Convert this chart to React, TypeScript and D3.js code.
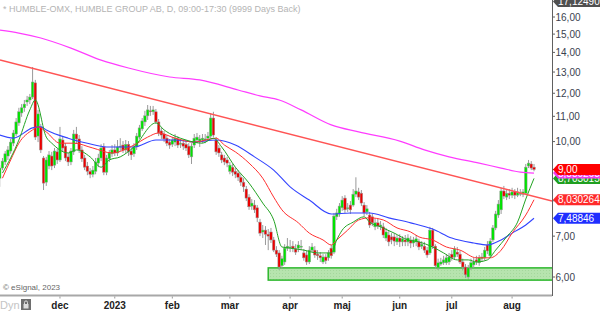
import React from "react";
import * as d3 from "d3";

// ---- Data ----
const opens = [
  8.71, 9.05, 9.26, 9.47, 9.65, 9.94, 10.29, 10.73, 11.14, 11.36, 11.61, 11.70, 11.83, 12.48, 10.21, 10.57, 9.40, 8.58, 9.12, 9.47,
  9.15, 9.62, 9.33, 10.06, 9.83, 9.44, 9.26, 9.62, 10.29, 10.10, 9.69, 9.40, 9.12, 8.94, 8.84, 8.94, 9.22, 9.40, 9.80, 8.91,
  9.37, 9.55, 9.69, 9.58, 9.80, 9.87, 9.69, 9.90, 9.65, 9.55, 9.80, 10.17, 10.49, 10.77, 11.02, 11.23, 11.19, 11.19, 10.77, 10.41,
  10.29, 10.13, 9.98, 9.90, 9.98, 10.10, 9.90, 9.94, 9.90, 9.83, 9.44, 9.87, 10.06, 10.02, 10.06, 10.06, 10.13, 10.21, 10.93, 10.06,
  9.76, 9.51, 9.40, 9.33, 8.94, 9.08, 8.94, 8.88, 8.74, 8.58, 8.36, 8.11, 7.84, 7.87, 7.79, 7.38, 7.11, 7.16, 7.05, 7.11,
  6.90, 6.64, 6.57, 6.26, 6.35, 6.69, 6.72, 6.74, 6.67, 6.69, 6.72, 6.57, 6.52, 6.35, 6.64, 6.64, 6.54, 6.50, 6.35, 6.47,
  6.45, 6.69, 6.59, 7.53, 7.61, 7.79, 8.08, 7.76, 7.87, 7.87, 8.20, 8.27, 8.23, 7.87, 7.67, 7.58, 7.53, 7.25, 7.36, 7.25,
  7.25, 6.95, 7.03, 6.98, 6.98, 6.85, 6.95, 6.85, 6.90, 6.85, 6.90, 6.82, 6.85, 6.85, 6.74, 6.74, 6.64, 6.57, 7.16, 6.74,
  6.21, 6.30, 6.33, 6.33, 6.35, 6.54, 6.47, 6.59, 6.54, 6.35, 6.23, 6.00, 6.21, 6.28, 6.40, 6.33, 6.43, 6.45, 6.77, 6.50,
  6.90, 7.22, 7.58, 7.73, 8.30, 8.11, 8.23, 8.17, 8.27, 8.17, 8.23, 8.20, 8.23, 9.12, 9.19, 9.08,
];
const highs = [
  9.15, 9.40, 9.65, 9.83, 10.10, 10.45, 10.93, 11.36, 11.52, 11.70, 11.88, 11.97, 13.25, 12.62, 11.27, 10.69, 9.47, 9.44, 9.65, 9.62,
  9.76, 9.73, 10.57, 10.21, 9.94, 9.58, 9.76, 10.45, 10.57, 10.25, 9.83, 9.51, 9.26, 9.05, 9.12, 9.40, 9.55, 9.90, 9.94, 9.51,
  9.69, 9.87, 9.90, 10.06, 10.13, 10.02, 10.06, 10.02, 9.76, 9.94, 10.33, 10.65, 10.93, 11.23, 11.48, 11.44, 11.44, 11.31, 10.89, 10.53,
  10.41, 10.25, 10.10, 10.17, 10.29, 10.21, 10.10, 10.10, 10.06, 9.94, 9.94, 10.29, 10.33, 10.25, 10.29, 10.29, 10.37, 11.14, 11.19, 10.17,
  9.87, 9.62, 9.51, 9.44, 9.26, 9.19, 9.05, 8.98, 8.84, 8.71, 8.46, 8.20, 8.05, 8.02, 7.87, 7.47, 7.30, 7.27, 7.19, 7.22,
  6.98, 6.74, 6.64, 6.50, 6.79, 6.95, 6.90, 6.87, 6.79, 6.87, 6.90, 6.67, 6.62, 6.74, 6.82, 6.74, 6.64, 6.59, 6.54, 6.54,
  6.64, 6.77, 7.64, 7.76, 7.93, 8.14, 8.17, 7.93, 7.99, 8.36, 8.74, 8.40, 8.33, 7.96, 7.87, 7.67, 7.61, 7.47, 7.47, 7.41,
  7.36, 7.22, 7.14, 7.08, 7.08, 7.03, 7.05, 7.00, 7.03, 7.05, 7.00, 6.98, 7.03, 6.93, 6.87, 6.85, 6.72, 7.25, 7.22, 6.79,
  6.43, 6.45, 6.50, 6.54, 6.57, 6.64, 6.74, 6.72, 6.62, 6.43, 6.30, 6.28, 6.43, 6.45, 6.50, 6.52, 6.57, 6.72, 6.87, 6.95,
  7.30, 7.70, 8.02, 8.40, 8.46, 8.33, 8.36, 8.40, 8.36, 8.40, 8.36, 8.36, 9.19, 9.33, 9.29, 9.19,
];
const lows = [
  8.43, 8.98, 9.15, 9.33, 9.55, 9.83, 10.21, 10.61, 10.98, 11.19, 11.44, 11.52, 11.74, 10.06, 9.98, 9.58, 8.33, 8.46, 9.01, 8.98,
  9.05, 9.19, 9.26, 9.65, 9.29, 9.12, 9.15, 9.51, 9.94, 9.58, 9.26, 8.98, 8.81, 8.71, 8.74, 8.84, 9.08, 9.29, 8.81, 8.81,
  9.26, 9.44, 9.47, 9.47, 9.65, 9.58, 9.58, 9.47, 9.33, 9.44, 9.69, 10.10, 10.41, 10.61, 10.85, 11.02, 11.06, 10.69, 10.21, 10.10,
  9.98, 9.83, 9.73, 9.80, 9.83, 9.76, 9.76, 9.69, 9.65, 9.40, 9.19, 9.76, 9.94, 9.80, 9.94, 9.94, 10.02, 10.13, 10.17, 9.51,
  9.44, 9.22, 9.15, 9.08, 8.84, 8.78, 8.71, 8.62, 8.46, 8.27, 7.99, 7.73, 7.73, 7.64, 7.38, 7.00, 6.95, 6.77, 6.64, 6.82,
  6.59, 6.47, 6.16, 6.19, 6.28, 6.62, 6.59, 6.59, 6.52, 6.59, 6.64, 6.38, 6.28, 6.30, 6.59, 6.45, 6.40, 6.35, 6.30, 6.30,
  6.38, 6.43, 6.54, 7.44, 7.53, 7.70, 7.64, 7.67, 7.61, 7.82, 8.11, 8.02, 7.84, 7.55, 7.58, 7.22, 7.27, 7.16, 7.19, 7.16,
  6.95, 6.87, 6.74, 6.79, 6.74, 6.77, 6.72, 6.74, 6.74, 6.74, 6.69, 6.72, 6.74, 6.64, 6.67, 6.57, 6.45, 6.52, 6.67, 6.19,
  6.16, 6.26, 6.28, 6.28, 6.28, 6.38, 6.40, 6.47, 6.30, 6.16, 5.98, 5.96, 6.16, 6.21, 6.28, 6.26, 6.35, 6.38, 6.54, 6.45,
  6.85, 7.16, 7.50, 7.61, 8.05, 8.02, 8.05, 8.08, 8.05, 8.11, 8.14, 8.11, 8.20, 9.05, 8.98, 8.94,
];
const closes = [
  9.05, 9.29, 9.55, 9.69, 9.98, 10.33, 10.77, 11.19, 11.36, 11.52, 11.70, 11.83, 12.52, 10.17, 11.10, 9.69, 8.55, 9.33, 9.51, 9.12,
  9.65, 9.33, 10.10, 9.76, 9.40, 9.26, 9.65, 10.29, 10.10, 9.69, 9.37, 9.08, 8.94, 8.84, 8.98, 9.26, 9.40, 9.76, 8.91, 9.40,
  9.58, 9.69, 9.58, 9.80, 9.83, 9.69, 9.90, 9.62, 9.51, 9.80, 10.21, 10.53, 10.81, 11.02, 11.27, 11.19, 11.27, 10.77, 10.33, 10.25,
  10.10, 9.94, 9.87, 10.06, 10.13, 9.87, 9.94, 9.83, 9.76, 9.51, 9.83, 10.13, 10.17, 10.10, 10.13, 10.10, 10.21, 10.93, 10.25, 9.62,
  9.58, 9.33, 9.26, 9.22, 9.15, 8.91, 8.84, 8.74, 8.58, 8.43, 8.08, 7.82, 7.93, 7.73, 7.50, 7.08, 7.16, 7.05, 7.00, 6.90,
  6.64, 6.54, 6.23, 6.43, 6.69, 6.74, 6.72, 6.69, 6.59, 6.77, 6.74, 6.45, 6.35, 6.64, 6.72, 6.52, 6.50, 6.45, 6.47, 6.38,
  6.57, 6.50, 7.55, 7.64, 7.84, 8.02, 7.73, 7.79, 7.73, 8.20, 8.30, 8.11, 7.93, 7.64, 7.76, 7.30, 7.36, 7.36, 7.27, 7.30,
  7.03, 7.11, 6.85, 6.90, 6.87, 6.95, 6.85, 6.93, 6.85, 6.95, 6.82, 6.90, 6.93, 6.72, 6.79, 6.64, 6.52, 7.16, 6.74, 6.26,
  6.33, 6.35, 6.40, 6.45, 6.47, 6.45, 6.67, 6.54, 6.35, 6.23, 6.05, 6.21, 6.33, 6.35, 6.35, 6.45, 6.47, 6.64, 6.62, 6.87,
  7.22, 7.61, 7.90, 8.30, 8.14, 8.23, 8.17, 8.27, 8.17, 8.27, 8.23, 8.27, 9.08, 9.22, 9.05, 9.00,
];

// Moving averages: [bar index, value]
const greenMA: [number, number][] = [
  [1, 8.88], [7, 10.06], [11, 11.27], [13, 11.7], [17, 10.17], [19, 9.94], [25, 9.58], [28, 9.69], [33, 9.44], [37, 9.08],
  [40, 9.33], [44, 9.44], [49, 9.8], [57, 10.73], [60, 10.45], [68, 10.06], [74, 9.94], [78, 10.13], [81, 9.8], [86, 9.08],
  [91, 8.55], [96, 7.93], [100, 7.44], [103, 6.72], [106, 6.69], [111, 6.64], [116, 6.57], [121, 6.57], [123, 6.9], [125, 7.16],
  [129, 7.38], [133, 7.53], [135, 7.38], [139, 7.25], [144, 7.08], [149, 6.9], [153, 6.85], [158, 6.72], [162, 6.57], [167, 6.4],
  [171, 6.4], [174, 6.35], [178, 6.4], [181, 6.64], [185, 6.98], [189, 7.38], [192, 8.05], [195, 8.703],
];
const redMA: [number, number][] = [
  [1, 8.71], [4, 9.33], [7, 9.94], [12, 10.45], [14, 10.57], [17, 10.37], [22, 9.94], [27, 9.94], [34, 9.76], [41, 9.58],
  [49, 9.87], [54, 10.17], [58, 10.33], [64, 10.13], [71, 9.98], [79, 10.13], [82, 9.87], [86, 9.62], [91, 9.22], [96, 8.71],
  [100, 8.11], [103, 7.73], [109, 7.36], [113, 7.08], [118, 6.9], [121, 6.77], [123, 6.9], [127, 7.16], [131, 7.44], [135, 7.5],
  [140, 7.44], [145, 7.22], [150, 7.11], [153, 6.98], [158, 6.9], [163, 6.72], [168, 6.64], [174, 6.45], [179, 6.45], [183, 6.64],
  [187, 7.08], [192, 7.58], [195, 8.030264],
];
const blueMA: [number, number][] = [
  [0, 10.25], [5, 10.13], [12, 10.53], [15, 10.57], [17, 10.45], [25, 10.13], [32, 9.94], [39, 9.8], [49, 9.8], [57, 10.06],
  [64, 10.06], [71, 9.98], [79, 10.06], [86, 9.87], [93, 9.44], [100, 8.98], [106, 8.43], [113, 8.02], [121, 7.61], [128, 7.64],
  [135, 7.64], [142, 7.5], [150, 7.36], [158, 7.19], [165, 6.95], [173, 6.82], [178, 6.77], [183, 6.9], [187, 7.08], [192, 7.3],
  [195, 7.48846],
];
const magentaMA: [number, number][] = [
  [0, 15.23], [7, 15.06], [15, 14.78], [26, 14.23], [37, 13.6], [47, 13.2], [62, 12.76], [73, 12.62], [87, 12.15], [95, 11.88],
  [102, 11.7], [110, 11.27], [121, 10.65], [131, 10.37], [146, 10.02], [155, 9.69], [164, 9.44], [175, 9.22], [183, 9.05], [190, 8.91],
  [195, 8.88],
];

// Trendline anchors [bar index, value]
const trendStart: [number, number] = [12, 13.18];
const trendEnd: [number, number] = [195, 8.13];

// Support zone
const zoneStartIndex = 98;
const zoneLow = 5.93;
const zoneHigh = 6.21;

const yTickValues = [6, 7, 8, 9, 10, 11, 12, 13, 14, 15, 16];
// tick labels hidden behind the price boxes in the reference
const yTicksHiddenLabel = [8, 9];
const monthLabels = ["dec", "2023", "feb", "mar", "apr", "maj", "jun", "jul", "aug"];
const monthIndex = [22, 42, 63, 84, 106, 125, 146, 165, 187];

const priceLabels = [
  { value: 8.703, text: "8,703015", color: "#1f9f1f" },
  { value: 8.88, text: "8,880263", color: "#f03cf0" },
  { value: 9.0, text: "9,00", color: "#ff0000" },
  { value: 8.030264, text: "8,030264", color: "#ff2a2a" },
  { value: 7.48846, text: "7,48846", color: "#1f2fff" },
];
const topLabel = { value: 17.124905, text: "17,124905", color: "#505050" };

const title = "* HUMBLE-OMX, HUMBLE GROUP AB, D, 09:00-17:30 (9999 Days Back)";

export default function App() {
  const plotRight = 552;
  const plotBottom = 295;
  const x = d3.scaleLinear().domain([0, 195]).range([-0.3, -0.3 + 195 * 2.74]);
  const y = d3.scaleLog().domain([6, 16]).range([277, 17]);

  const maLine = d3
    .line<[number, number]>()
    .x((d) => x(d[0]))
    .y((d) => y(d[1]))
    .curve(d3.curveMonotoneX);

  // trendline extended across the plot in screen space
  const tx1 = x(trendStart[0]);
  const ty1 = y(trendStart[1]);
  const tx2 = x(trendEnd[0]);
  const ty2 = y(trendEnd[1]);
  const slope = (ty2 - ty1) / (tx2 - tx1);
  const tyAt = (px: number) => ty1 + slope * (px - tx1);

  const boxPath = (cy: number) => {
    const h = 5.5;
    return `M553,${cy} L558,${cy - h} L600,${cy - h} L600,${cy + h} L558,${cy + h} Z`;
  };

  const topCy = Math.max(y(topLabel.value), 1.5);

  return (
    <svg
      width={600}
      height={311}
      style={{ position: "fixed", left: 0, top: 0, display: "block", background: "#fff" }}
      fontFamily="Arial, 'Liberation Sans', sans-serif"
    >
      <defs>
        <clipPath id="plot">
          <rect x={0} y={0} width={plotRight} height={plotBottom} />
        </clipPath>
        <pattern id="dots" width={3} height={3} patternUnits="userSpaceOnUse">
          <rect width={3} height={3} fill="#b6e4ae" />
          <rect width={1} height={1} fill="#a4d89c" />
        </pattern>
      </defs>
      <rect x={0} y={0} width={600} height={311} fill="#fff" />

      <text x={3} y={12} fontSize={9} fill="#b4b4b4">
        {title}
      </text>

      <g clipPath="url(#plot)">
        {/* support zone */}
        <rect
          x={x(zoneStartIndex)}
          y={y(zoneHigh)}
          width={plotRight - x(zoneStartIndex) + 2}
          height={y(zoneLow) - y(zoneHigh)}
          fill="url(#dots)"
          stroke="#2eb82e"
          strokeWidth={1.5}
        />

        {/* candles */}
        {opens.map((o, i) => {
          const c = closes[i];
          const cx = x(i);
          const up = c >= o;
          const top = y(Math.max(o, c));
          const bot = y(Math.min(o, c));
          return (
            <g key={i}>
              <line x1={cx} x2={cx} y1={y(highs[i])} y2={y(lows[i])} stroke="#9a9a9a" strokeWidth={1} />
              <rect
                x={cx - 1.3}
                y={top}
                width={2.6}
                height={Math.max(bot - top, 1)}
                fill={up ? "#00e400" : "#ec0000"}
                stroke="#9a9a9a"
                strokeWidth={0.5}
              />
            </g>
          );
        })}

        {/* moving averages */}
        <path d={maLine(magentaMA) || ""} fill="none" stroke="#ff3cff" strokeWidth={1.2} />
        <path d={maLine(blueMA) || ""} fill="none" stroke="#3344ff" strokeWidth={1.1} />
        <path d={maLine(redMA) || ""} fill="none" stroke="#ff3030" strokeWidth={1} />
        <path d={maLine(greenMA) || ""} fill="none" stroke="#23a323" strokeWidth={1} />

        {/* trendline */}
        <line x1={0} y1={tyAt(0)} x2={plotRight} y2={tyAt(plotRight)} stroke="#ff5454" strokeWidth={1.5} />
      </g>

      <text x={3} y={290} fontSize={8} fill="#666">
        © eSignal, 2023
      </text>

      {/* axes frame */}
      <line x1={0} x2={plotRight} y1={plotBottom + 0.5} y2={plotBottom + 0.5} stroke="#a8a8a8" strokeWidth={2} />
      <line x1={plotRight + 0.5} x2={plotRight + 0.5} y1={0} y2={plotBottom + 1} stroke="#606060" strokeWidth={1} />

      {/* y ticks */}
      {yTickValues.map((v) => (
        <g key={v}>
          <line x1={plotRight} x2={plotRight + 3} y1={y(v)} y2={y(v)} stroke="#606060" />
          {yTicksHiddenLabel.indexOf(v) < 0 && (
            <text x={plotRight + 3.5} y={y(v) + 3.5} fontSize={10} fill="#3a3f4f">
              {d3.format(".2f")(v).replace(".", ",")}
            </text>
          )}
        </g>
      ))}

      {/* x ticks */}
      {monthLabels.map((m, k) => (
        <g key={m}>
          <line x1={x(monthIndex[k])} x2={x(monthIndex[k])} y1={plotBottom + 1.5} y2={plotBottom + 3.5} stroke="#999" />
          <text x={x(monthIndex[k])} y={309} fontSize={10} fontWeight="bold" fill="#222" textAnchor="middle">
            {m}
          </text>
        </g>
      ))}

      <text x={0} y={309} fontSize={11} fill="#c4c4c4">
        Dyn
      </text>
      <g>
        <rect x={21} y={299} width={10} height={11} fill="#6e6e6e" />
        <rect x={23.5} y={304} width={5} height={4.5} fill="#ddd" />
        <path d="M24.5,304 v-1.6 a1.5,1.5 0 0 1 3,0 v1.6" fill="none" stroke="#ddd" strokeWidth={1} />
      </g>

      {/* price labels */}
      <g>
        <path d={boxPath(topCy)} fill={topLabel.color} />
        <text x={558} y={topCy + 3.5} fontSize={10} fill="#fff">
          {topLabel.text}
        </text>
      </g>
      {priceLabels.map((p) => {
        const cy = y(p.value);
        return (
          <g key={p.text}>
            <path d={boxPath(cy)} fill={p.color} />
            <text x={558} y={cy + 3.6} fontSize={10} fill="#fff">
              {p.text}
            </text>
          </g>
        );
      })}
    </svg>
  );
}
